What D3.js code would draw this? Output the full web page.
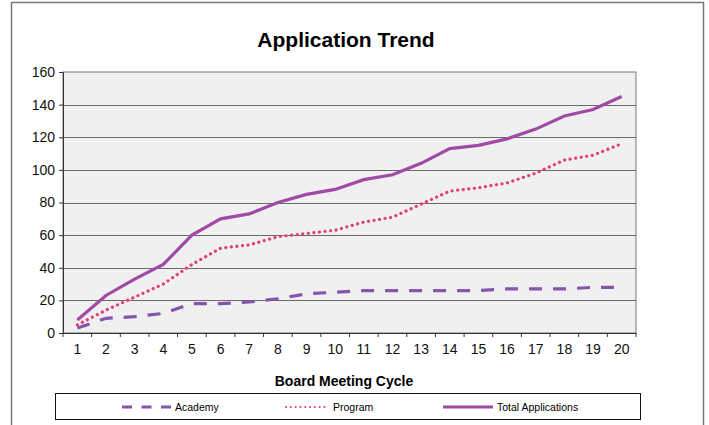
<!DOCTYPE html>
<html>
<head>
<meta charset="utf-8">
<script src="https://cdn.jsdelivr.net/npm/d3@7"></script>
<style>
  body { margin: 0; background: #fff; }
  svg { display: block; font-family: "Liberation Sans", Arial, sans-serif; }
</style>
</head>
<body>
<div id="chart"></div>
<script>
// data
var cycles = d3.range(1, 21);
var academy = [3, 9, 10, 12, 18, 18, 19, 21, 24, 25, 26, 26, 26, 26, 26, 27, 27, 27, 28, 28];
var program = [5, 14, 22, 30, 42, 52, 54, 59, 61, 63, 68, 71, 79, 87, 89, 92, 98, 106, 109, 116];
var total = [8, 23, 33, 42, 60, 70, 73, 80, 85, 88, 94, 97, 104, 113, 115, 119, 125, 133, 137, 145];
var yTicks = [0, 20, 40, 60, 80, 100, 120, 140, 160];

var series = [
  { name: 'Academy', values: academy, color: '#8455ab', dash: '13,11' },
  { name: 'Program', values: program, color: '#e0407a', dash: '0.1,5.5' },
  { name: 'Total Applications', values: total, color: '#a04aa6', dash: null }
];

var width = 709,
    height = 425,
    plot = { left: 63, right: 636, top: 72, bottom: 333 };

var svg = d3.select('#chart').append('svg')
    .attr('width', width)
    .attr('height', height);

// outer frame (bottom edge falls outside the window)
svg.append('path')
    .attr('d', 'M11.5,440 V2.5 H703.5 V440')
    .attr('fill', 'none')
    .attr('stroke', '#777')
    .attr('stroke-width', 1.5);

svg.append('text')
    .attr('x', 346)
    .attr('y', 47)
    .attr('text-anchor', 'middle')
    .style('font-size', '21px')
    .style('font-weight', 'bold')
    .text('Application Trend');

var x = d3.scaleBand()
    .domain(cycles)
    .range([plot.left, plot.right]);

var y = d3.scaleLinear()
    .domain([0, 160])
    .range([plot.bottom, plot.top]);

svg.append('rect')
    .attr('x', plot.left)
    .attr('y', plot.top)
    .attr('width', plot.right - plot.left)
    .attr('height', plot.bottom - plot.top)
    .attr('fill', '#f0f0f0')
    .attr('stroke', '#777');

// gridlines
svg.append('g')
    .selectAll('line')
    .data(yTicks.slice(1, -1))
  .enter().append('line')
    .attr('x1', plot.left)
    .attr('x2', plot.right)
    .attr('y1', function(d) { return Math.round(y(d)) + 0.5; })
    .attr('y2', function(d) { return Math.round(y(d)) + 0.5; })
    .attr('stroke', '#6a6a6a')
    .attr('stroke-width', 1);

var yAxis = svg.append('g')
    .attr('transform', 'translate(' + plot.left + ',0)')
    .call(d3.axisLeft(y).tickValues(yTicks).tickSize(4).tickPadding(4));

// x axis: ticks sit on the band edges, labels in the middle
var xAxis = svg.append('g')
    .attr('transform', 'translate(0,' + plot.bottom + ')')
    .call(d3.axisBottom(x).tickSize(0).tickPadding(11));

svg.append('g')
    .selectAll('line')
    .data(cycles.concat([21]))
  .enter().append('line')
    .attr('x1', function(d) { return d === 21 ? plot.right : x(d); })
    .attr('x2', function(d) { return d === 21 ? plot.right : x(d); })
    .attr('y1', plot.bottom)
    .attr('y2', plot.bottom + 4)
    .attr('stroke', '#333');

[yAxis, xAxis].forEach(function(ax) {
  ax.select('.domain').attr('stroke', '#333');
  ax.selectAll('.tick line').attr('stroke', '#333');
  ax.selectAll('text')
      .style('font-size', '14px')
      .style('font-family', '"Liberation Sans", Arial, sans-serif')
      .attr('fill', '#111');
});

var line = d3.line()
    .x(function(d, i) { return x(cycles[i]) + x.bandwidth() / 2; })
    .y(function(d) { return y(d); });

svg.append('g')
    .selectAll('path')
    .data(series)
  .enter().append('path')
    .attr('d', function(d) { return line(d.values); })
    .attr('fill', 'none')
    .attr('stroke', function(d) { return d.color; })
    .attr('stroke-width', 3.2)
    .attr('stroke-linecap', function(d) { return d.name === 'Program' ? 'round' : 'butt'; })
    .attr('stroke-dasharray', function(d) { return d.dash; });

svg.append('text')
    .attr('x', 344)
    .attr('y', 386)
    .attr('text-anchor', 'middle')
    .style('font-size', '14px')
    .style('font-weight', 'bold')
    .text('Board Meeting Cycle');

// legend
var legend = svg.append('g');
legend.append('rect')
    .attr('x', 55.5)
    .attr('y', 393.5)
    .attr('width', 585)
    .attr('height', 26)
    .attr('fill', '#fff')
    .attr('stroke', '#111');

var legendX = [122, 286, 443];
var legendLen = [49, 43, 50];
var item = legend.selectAll('.item')
    .data(series)
  .enter().append('g')
    .attr('class', 'item')
    .attr('transform', function(d, i) { return 'translate(' + legendX[i] + ',407)'; });

item.append('line')
    .attr('x1', 0)
    .attr('x2', function(d, i) { return legendLen[i]; })
    .attr('stroke', function(d) { return d.color; })
    .attr('stroke-width', function(d, i) { return i === 1 ? 2 : 3; })
    .attr('stroke-linecap', function(d, i) { return i === 1 ? 'round' : 'butt'; })
    .attr('stroke-dasharray', function(d, i) { return i === 0 ? '10,9.5' : (i === 1 ? '0.1,4.7' : null); });

item.append('text')
    .attr('x', function(d, i) { return legendLen[i] + 4; })
    .attr('dy', '0.35em')
    .style('font-size', '10.5px')
    .text(function(d) { return d.name; });
</script>
</body>
</html>
